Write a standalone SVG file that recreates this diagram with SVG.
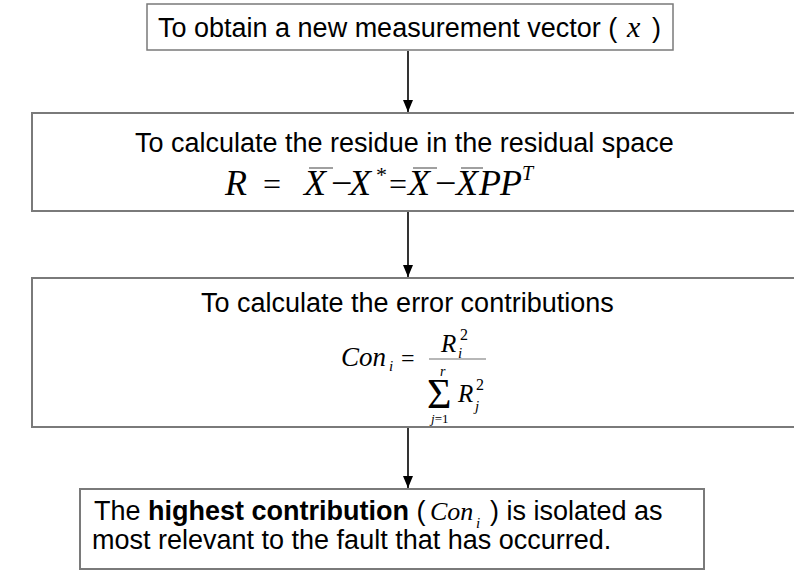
<svg xmlns="http://www.w3.org/2000/svg" width="794" height="573" viewBox="0 0 794 573">
<style>
.box{fill:#fff;stroke:#7a7a7a;stroke-width:2}
.t{font-family:"Liberation Sans",Arial,sans-serif;font-size:27px;fill:#000}
.m{font-family:"Liberation Serif","Times New Roman",serif;font-style:italic;fill:#000}
.u{font-family:"Liberation Serif","Times New Roman",serif;fill:#000}
.ov{stroke:#808080;stroke-width:1.5}
.arr{stroke:#000;stroke-width:1.6;fill:none;marker-end:url(#ah)}
</style>
<defs>
<marker id="ah" markerWidth="12" markerHeight="10" refX="12" refY="5" orient="auto" markerUnits="userSpaceOnUse" viewBox="0 0 12 10">
<path d="M0,0 L12,5 L0,10 Z" fill="#000"/>
</marker>
</defs>
<rect width="794" height="573" fill="#fff"/>
<g id="connectors">
<line class="arr" x1="408" y1="51" x2="408" y2="112"/>
<line class="arr" x1="408" y1="212" x2="408" y2="277"/>
<line class="arr" x1="408" y1="428" x2="408" y2="488"/>
</g>
<g id="node1">
<rect class="box" x="147" y="4" width="526" height="46" style="stroke-width:1.5"/>
<text class="t" x="158" y="37">To obtain a new measurement vector (</text>
<text class="m" x="627" y="37" font-size="30">x</text>
<text class="t" x="652" y="37">)</text>
</g>
<g id="node2">
<rect class="box" x="32" y="113" width="770" height="98"/>
<text class="t" x="135" y="152" font-size="27.3">To calculate the residue in the residual space</text>
<text class="m" x="225" y="195" font-size="36">R</text>
<text class="u" x="263" y="195" font-size="32">=</text>
<text class="m" x="304" y="195" font-size="36">X</text>
<line class="ov" x1="309" y1="168" x2="333" y2="168"/>
<text class="u" x="331" y="196" font-size="38">−</text>
<text class="m" x="349" y="195" font-size="36">X</text>
<text class="u" x="376" y="182" font-size="22">*</text>
<text class="u" x="389" y="195" font-size="32">=</text>
<text class="m" x="408" y="195" font-size="36">X</text>
<line class="ov" x1="413" y1="168" x2="437" y2="168"/>
<text class="u" x="435" y="196" font-size="38">−</text>
<text class="m" x="456" y="195" font-size="36">X</text>
<line class="ov" x1="461" y1="168" x2="483" y2="168"/>
<text class="m" x="479" y="195" font-size="36">P</text>
<text class="m" x="500" y="195" font-size="36">P</text>
<text class="m" x="522" y="180" font-size="20">T</text>
</g>
<g id="node3">
<rect class="box" x="32" y="278" width="770" height="149"/>
<text class="t" x="201" y="312" font-size="27.6">To calculate the error contributions</text>
<text class="m" x="341" y="366" font-size="27">Con</text>
<text class="m" x="389" y="371" font-size="15">i</text>
<text class="u" x="401" y="366" font-size="24">=</text>
<text class="m" x="441" y="352" font-size="25">R</text>
<text class="u" x="460" y="340" font-size="16">2</text>
<text class="m" x="458" y="358" font-size="15">i</text>
<line x1="429" y1="359" x2="486" y2="359" stroke="#707070" stroke-width="1.2"/>
<text class="m" x="440" y="376" font-size="14">r</text>
<text class="u" x="427" y="408" font-size="42">Σ</text>
<text class="m" x="458" y="402" font-size="25">R</text>
<text class="u" x="476" y="390" font-size="16">2</text>
<text class="m" x="475" y="411" font-size="15">j</text>
<text class="u" x="431" y="423" font-size="13"><tspan class="m">j</tspan>=1</text>
</g>
<g id="node4">
<rect class="box" x="80" y="489" width="624" height="80"/>
<text class="t" x="94" y="520">The <tspan font-weight="bold">highest contribution</tspan> (</text>
<text class="m" x="430" y="520" font-size="26">Con</text>
<text class="m" x="476" y="528" font-size="15">i</text>
<text class="t" x="490" y="520">) is isolated as</text>
<text class="t" x="92" y="549">most relevant to the fault that has occurred.</text>
</g>
</svg>
